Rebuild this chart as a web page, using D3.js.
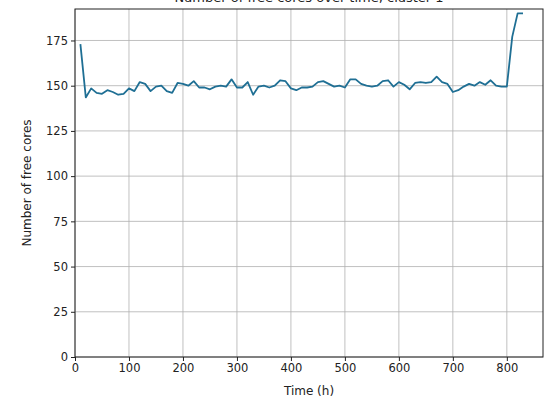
<!DOCTYPE html>
<html>
<head>
<meta charset="utf-8">
<script src="https://cdn.jsdelivr.net/npm/d3@7"></script>
<style>
  body { margin: 0; background: #fff; }
  text { font-family: "DejaVu Sans", sans-serif; fill: #222; }
</style>
</head>
<body>
<script>
const svgWidth = 547
const svgHeight = 399

const margin = { top: 9, right: 4, bottom: 42, left: 75 }

const chartWidth = svgWidth - margin.left - margin.right
const chartHeight = svgHeight - margin.top - margin.bottom

// time in hours, one sample every 10 h
const hours = [10, 20, 30, 40, 50, 60, 70, 80, 90, 100, 110, 120, 130, 140, 150, 160, 170, 180, 190, 200,
  210, 220, 230, 240, 250, 260, 270, 280, 290, 300, 310, 320, 330, 340, 350, 360, 370, 380, 390, 400,
  410, 420, 430, 440, 450, 460, 470, 480, 490, 500, 510, 520, 530, 540, 550, 560, 570, 580, 590, 600,
  610, 620, 630, 640, 650, 660, 670, 680, 690, 700, 710, 720, 730, 740, 750, 760, 770, 780, 790, 800,
  810, 820, 830]

const freeCores = [173, 143.5, 148.5, 146, 145.5, 147.5, 146.5, 145, 145.5, 148.5, 147, 152, 151, 147, 149.5, 150, 147, 146, 151.5, 151,
  150, 152.5, 149, 149, 148, 149.5, 150, 149.5, 153.5, 149, 149, 152, 145, 149.5, 150, 149, 150, 153, 152.5, 148.5,
  147.5, 149, 149, 149.5, 152, 152.5, 151, 149.5, 150, 149, 153.5, 153.5, 151, 150, 149.5, 150, 152.5, 153, 149.5, 152,
  150.5, 148, 151.5, 152, 151.5, 152, 155, 152, 151, 146.5, 147.5, 149.5, 151, 150, 152, 150.5, 153, 150, 149.5, 149.5,
  177, 190, 190]

const xTicks = [0, 100, 200, 300, 400, 500, 600, 700, 800]
const yTicks = [0, 25, 50, 75, 100, 125, 150, 175]

const data = hours.map((h, i) => ({ h: h, v: freeCores[i] }))

const svg = d3.select("body").append("svg")
  .attr("width", svgWidth)
  .attr("height", svgHeight)

svg.append("rect")
  .attr("width", svgWidth)
  .attr("height", svgHeight)
  .attr("fill", "#fff")

// title sits mostly above the visible area, as in the original
svg.append("text")
  .attr("x", margin.left + chartWidth / 2)
  .attr("y", 1.5)
  .attr("text-anchor", "middle")
  .style("font-size", "13px")
  .text("Number of free cores over time, cluster 1")

const chartG = svg.append("g")
  .attr("transform", `translate(${margin.left}, ${margin.top})`)

const x = d3.scaleLinear()
  .domain([0, 867])
  .range([0, chartWidth])

const y = d3.scaleLinear()
  .domain([0, 192.4])
  .range([chartHeight, 0])

// grid
chartG.append("g").selectAll("line")
  .data(xTicks)
  .enter()
  .append("line")
  .attr("x1", d => x(d)).attr("x2", d => x(d))
  .attr("y1", 0).attr("y2", chartHeight)
  .attr("stroke", "#b0b0b0")
  .attr("stroke-width", 0.8)

chartG.append("g").selectAll("line")
  .data(yTicks)
  .enter()
  .append("line")
  .attr("x1", 0).attr("x2", chartWidth)
  .attr("y1", d => y(d)).attr("y2", d => y(d))
  .attr("stroke", "#b0b0b0")
  .attr("stroke-width", 0.8)

const line = d3.line()
  .x(d => x(d.h))
  .y(d => y(d.v))

chartG.append("path")
  .datum(data)
  .attr("d", line)
  .attr("fill", "none")
  .attr("stroke", "#1f6f94")
  .attr("stroke-width", 1.8)
  .attr("stroke-linejoin", "round")

// axes
const xAxis = d3.axisBottom(x).tickValues(xTicks).tickSize(4).tickPadding(3).tickSizeOuter(0)
const yAxis = d3.axisLeft(y).tickValues(yTicks).tickSize(4).tickPadding(3).tickSizeOuter(0)

chartG.append("g")
  .attr("transform", `translate(0, ${chartHeight})`)
  .call(xAxis)

chartG.append("g")
  .call(yAxis)

chartG.selectAll(".tick text")
  .style("font-family", "'DejaVu Sans', sans-serif")
  .style("font-size", "11.5px")
  .attr("fill", "#222")
chartG.selectAll(".tick line").attr("stroke", "#222")
chartG.selectAll(".domain").remove()

// frame
chartG.append("rect")
  .attr("width", chartWidth)
  .attr("height", chartHeight)
  .attr("fill", "none")
  .attr("stroke", "#222")
  .attr("stroke-width", 1)

svg.append("text")
  .attr("x", margin.left + chartWidth / 2)
  .attr("y", 395)
  .attr("text-anchor", "middle")
  .style("font-size", "12px")
  .text("Time (h)")

svg.append("text")
  .attr("transform", `translate(31, ${margin.top + chartHeight / 2}) rotate(-90)`)
  .attr("text-anchor", "middle")
  .style("font-size", "12px")
  .text("Number of free cores")
</script>
</body>
</html>
